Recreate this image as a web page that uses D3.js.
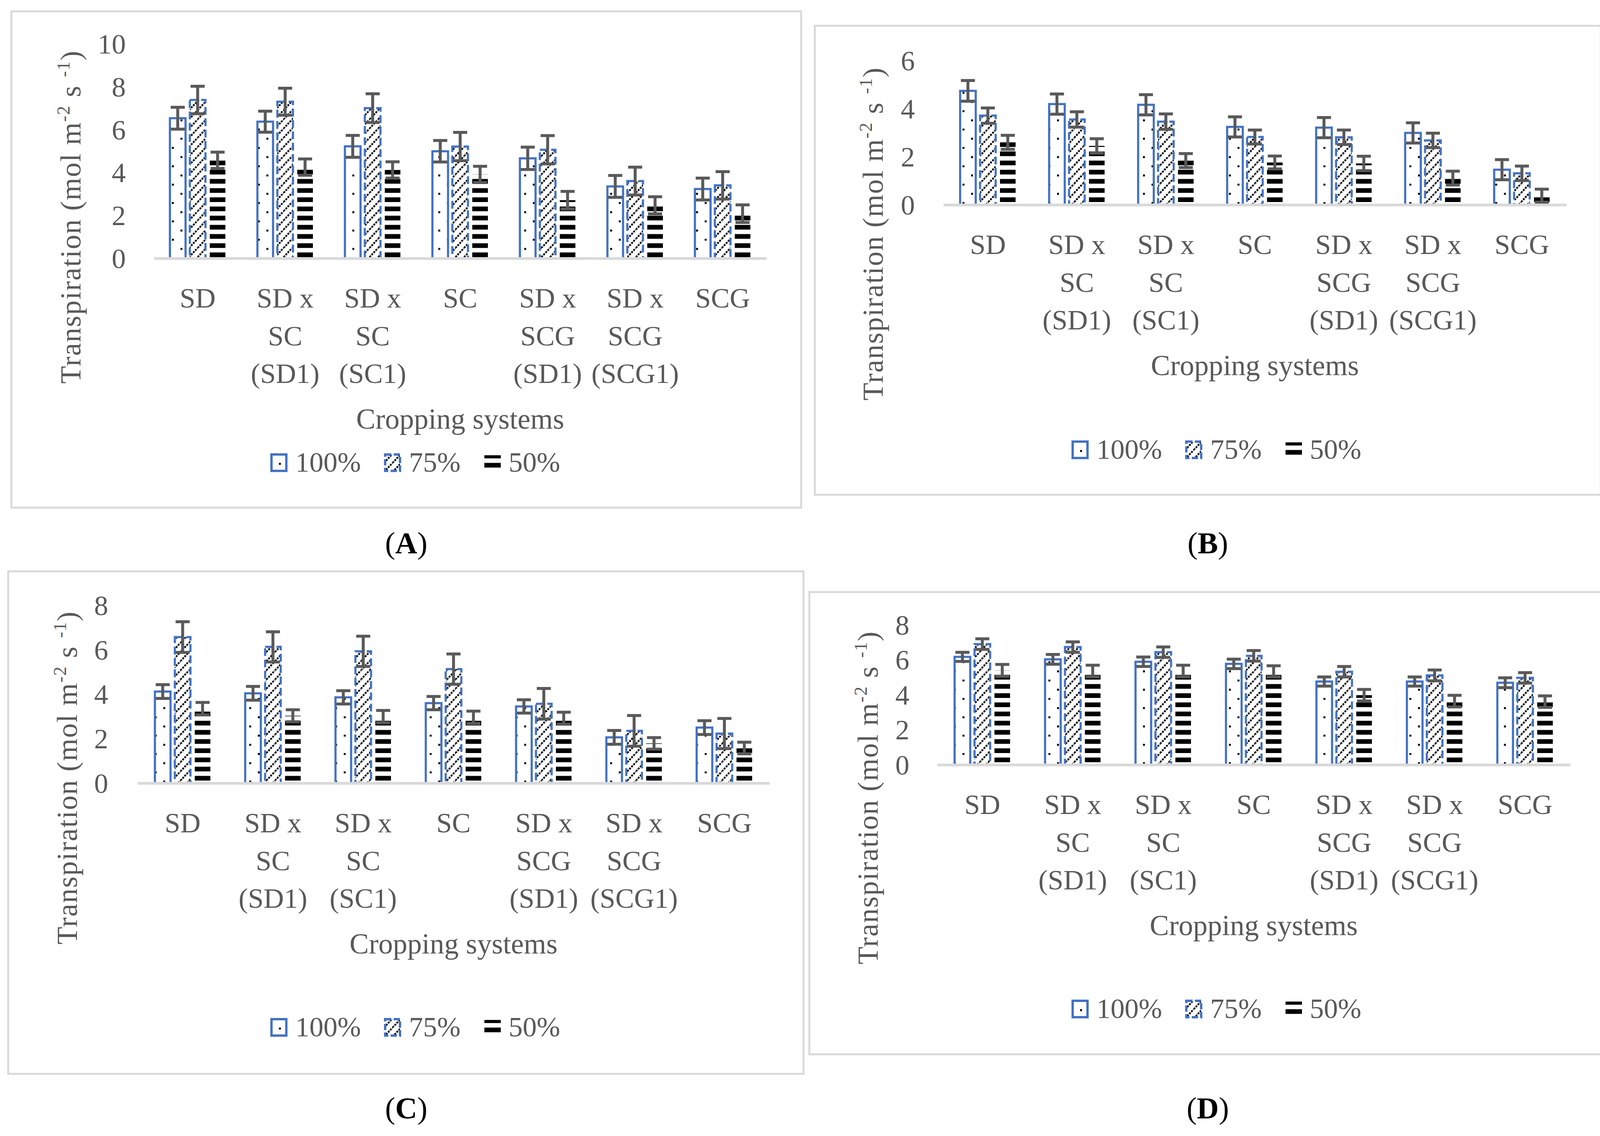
<!DOCTYPE html>
<html>
<head>
<meta charset="utf-8">
<script src="https://cdn.jsdelivr.net/npm/d3@7"></script>
<style>
  html, body { margin: 0; background: #fff; overflow: hidden; }
  svg { display: block; }
  text { font-family: "Liberation Serif", "Times New Roman", serif; }
</style>
</head>
<body>
<svg id="fig" width="4124" height="2907"></svg>
<script>
// categories shared by all four panels
const categories = ['SD', 'SD x SC (SD1)', 'SD x SC (SC1)', 'SC', 'SD x SCG (SD1)', 'SD x SCG (SCG1)', 'SCG'];
const categoryLines = [['SD'], ['SD x', 'SC', '(SD1)'], ['SD x', 'SC', '(SC1)'], ['SC'],
                       ['SD x', 'SCG', '(SD1)'], ['SD x', 'SCG', '(SCG1)'], ['SCG']];
const seriesNames = ['100%', '75%', '50%'];

const ticksA = [0, 2, 4, 6, 8, 10];
const ticksB = [0, 2, 4, 6];
const ticksC = [0, 2, 4, 6, 8];
const ticksD = [0, 2, 4, 6, 8];

// (A)
const a100 = [6.53, 6.37, 5.22, 4.99, 4.66, 3.35, 3.23];
const a75  = [7.38, 7.30, 7.00, 5.21, 5.06, 3.60, 3.40];
const a50  = [4.57, 4.25, 4.12, 3.91, 2.71, 2.47, 2.08];
const aErr100 = [0.51, 0.49, 0.51, 0.50, 0.52, 0.51, 0.51];
const aErr75  = [0.64, 0.63, 0.67, 0.66, 0.66, 0.65, 0.64];
const aErr50  = [0.38, 0.38, 0.38, 0.38, 0.41, 0.40, 0.41];

// (B)
const b100 = [4.74, 4.19, 4.16, 3.24, 3.21, 2.99, 1.46];
const b75  = [3.71, 3.55, 3.46, 2.82, 2.81, 2.68, 1.31];
const b50  = [2.60, 2.45, 1.84, 1.76, 1.72, 1.11, 0.38];
const bErr100 = [0.43, 0.42, 0.42, 0.42, 0.42, 0.42, 0.42];
const bErr75  = [0.32, 0.32, 0.32, 0.29, 0.30, 0.30, 0.30];
const bErr50  = [0.29, 0.30, 0.29, 0.27, 0.30, 0.29, 0.27];

// (C)
const c100 = [4.12, 4.04, 3.86, 3.60, 3.45, 2.06, 2.50];
const c75  = [6.57, 6.13, 5.93, 5.13, 3.57, 2.35, 2.23];
const c50  = [3.35, 3.03, 2.99, 2.96, 2.92, 1.79, 1.58];
const cErr100 = [0.31, 0.31, 0.30, 0.30, 0.30, 0.31, 0.31];
const cErr75  = [0.69, 0.68, 0.68, 0.68, 0.69, 0.69, 0.68];
const cErr50  = [0.28, 0.27, 0.28, 0.28, 0.27, 0.26, 0.26];

// (D)
const d100 = [6.17, 6.03, 5.89, 5.77, 4.76, 4.76, 4.69];
const d75  = [6.90, 6.73, 6.44, 6.23, 5.32, 5.11, 4.97];
const d50  = [5.40, 5.36, 5.36, 5.34, 3.98, 3.64, 3.61];
const dErr100 = [0.26, 0.28, 0.27, 0.27, 0.26, 0.26, 0.28];
const dErr75  = [0.30, 0.30, 0.30, 0.30, 0.30, 0.31, 0.30];
const dErr50  = [0.34, 0.33, 0.33, 0.32, 0.33, 0.33, 0.33];

const BLUE = '#4472C4';
const GREY_TEXT = '#595959';
const GREY_LINE = '#d9d9d9';
const FONT = 72;

const svg = d3.select('#fig');

// ---- fill patterns (Excel style) ----
const defs = svg.append('defs');

const dots = defs.append('pattern').attr('id', 'dots')
    .attr('patternUnits', 'userSpaceOnUse').attr('width', 44).attr('height', 47);
dots.append('rect').attr('width', 44).attr('height', 47).attr('fill', '#fff');
dots.append('rect').attr('x', 0).attr('y', 0).attr('width', 5).attr('height', 5).attr('fill', '#000');
dots.append('rect').attr('x', 22).attr('y', 23.5).attr('width', 5).attr('height', 5).attr('fill', '#000');

const hatch = defs.append('pattern').attr('id', 'hatch')
    .attr('patternUnits', 'userSpaceOnUse').attr('width', 22).attr('height', 23.5);
hatch.append('rect').attr('width', 22).attr('height', 23.5).attr('fill', '#fff');
[-22, 0, 22].forEach(dx => {
  hatch.append('line')
      .attr('x1', dx).attr('y1', 23.5).attr('x2', dx + 22).attr('y2', 0)
      .attr('stroke', '#000').attr('stroke-width', 4.5).attr('stroke-dasharray', '5 2.6');
});

const stripes = defs.append('pattern').attr('id', 'stripes')
    .attr('patternUnits', 'userSpaceOnUse').attr('width', 8).attr('height', 23.5);
stripes.append('rect').attr('width', 8).attr('height', 23.5).attr('fill', '#fff');
stripes.append('rect').attr('y', 11.5).attr('width', 8).attr('height', 12).attr('fill', '#000');

const seriesStyle = {
  '100%': {fill: 'url(#dots)', stroke: BLUE, dash: null},
  '75%':  {fill: 'url(#hatch)', stroke: BLUE, dash: '20 9'},
  '50%':  {fill: 'url(#stripes)', stroke: 'none', dash: null}
};

const panels = [
  {name: 'A', box: [29, 29, 2051, 1299], xRange: [394, 1962], yRange: [661, 112], yMax: 10, ticks: ticksA,
   tickRight: 322, yTitle: [182, 555], legend: [692, 1183], label: [1040, 1416],
   values: [a100, a75, a50], errors: [aErr100, aErr75, aErr50]},
  {name: 'B', box: [2086, 66, 4098, 1266], xRange: [2415, 4010], yRange: [524, 155], yMax: 6, ticks: ticksB,
   tickRight: 2342, yTitle: [2236, 598], legend: [2743, 1150], label: [3092, 1416],
   values: [b100, b75, b50], errors: [bErr100, bErr75, bErr50]},
  {name: 'C', box: [21, 1462, 2057, 2748], xRange: [352, 1970], yRange: [2004, 1549], yMax: 8, ticks: ticksC,
   tickRight: 277, yTitle: [173, 1990], legend: [692, 2628], label: [1040, 2862],
   values: [c100, c75, c50], errors: [cErr100, cErr75, cErr50]},
  {name: 'D', box: [2072, 1515, 4103, 2698], xRange: [2399, 4020], yRange: [1957, 1599], yMax: 8, ticks: ticksD,
   tickRight: 2328, yTitle: [2223, 2041], legend: [2743, 2581], label: [3092, 2862],
   values: [d100, d75, d50], errors: [dErr100, dErr75, dErr50]}
];

function drawPanel(p) {
  const g = svg.append('g').attr('class', 'panel-' + p.name);

  g.append('rect')
      .attr('x', p.box[0]).attr('y', p.box[1])
      .attr('width', p.box[2] - p.box[0]).attr('height', p.box[3] - p.box[1])
      .attr('fill', 'none').attr('stroke', GREY_LINE).attr('stroke-width', 5);

  const x = d3.scaleBand().domain(categories).range(p.xRange);
  const xs = d3.scalePoint().domain(seriesNames).range([-51, 51]);
  const y = d3.scaleLinear().domain([0, p.yMax]).range(p.yRange);
  const y0 = y(0);
  const barW = 40;

  // y axis (labels only)
  const yAxisG = g.append('g')
      .attr('transform', 'translate(' + p.tickRight + ',0)')
      .call(d3.axisLeft(y).tickValues(p.ticks).tickFormat(d3.format('d')).tickSize(0).tickPadding(0));
  yAxisG.select('.domain').remove();
  yAxisG.attr('font-family', null).attr('font-size', FONT).style('color', GREY_TEXT);
  yAxisG.selectAll('text').attr('dy', '0.34em');

  // bars
  seriesNames.forEach((s, k) => {
    const st = seriesStyle[s];
    g.append('g').selectAll('rect')
        .data(p.values[k])
        .join('rect')
        .attr('x', (d, i) => x(categories[i]) + x.bandwidth() / 2 + xs(s) - barW / 2)
        .attr('y', d => y(d))
        .attr('width', barW)
        .attr('height', d => y0 - y(d))
        .attr('fill', st.fill)
        .attr('stroke', st.stroke)
        .attr('stroke-width', 5.5)
        .attr('stroke-dasharray', st.dash);
  });

  // x axis: grey baseline plus multi-line category labels
  const xAxisG = g.append('g')
      .attr('transform', 'translate(0,' + y0 + ')')
      .call(d3.axisBottom(x).tickSize(0).tickSizeOuter(0).tickPadding(0));
  xAxisG.select('.domain').attr('stroke', GREY_LINE).attr('stroke-width', 7);
  xAxisG.attr('font-family', null).attr('font-size', FONT).style('color', GREY_TEXT);
  xAxisG.selectAll('.tick text')
      .attr('y', 0).attr('dy', null)
      .text(null)
      .each(function (d) {
        const lines = categoryLines[categories.indexOf(d)];
        const t = d3.select(this);
        lines.forEach((ln, j) => {
          t.append('tspan').attr('x', 0).attr('y', 126 + j * 96.5).text(ln);
        });
      });

  // error bars
  seriesNames.forEach((s, k) => {
    const eg = g.append('g').attr('stroke', GREY_TEXT).attr('stroke-width', 7.5).attr('fill', 'none');
    p.values[k].forEach((v, i) => {
      const cx = x(categories[i]) + x.bandwidth() / 2 + xs(s);
      const e = p.errors[k][i];
      const top = y(v + e), bot = y(v - e);
      eg.append('line').attr('x1', cx).attr('x2', cx).attr('y1', top).attr('y2', bot);
      eg.append('line').attr('x1', cx - 18).attr('x2', cx + 18).attr('y1', top).attr('y2', top);
      eg.append('line').attr('x1', cx - 18).attr('x2', cx + 18).attr('y1', bot).attr('y2', bot);
    });
  });

  // axis titles
  g.append('text')
      .attr('x', (p.xRange[0] + p.xRange[1]) / 2)
      .attr('y', y0 + 436)
      .attr('text-anchor', 'middle')
      .attr('font-size', 74)
      .attr('fill', GREY_TEXT)
      .text('Cropping systems');

  const yt = g.append('text')
      .attr('transform', 'translate(' + p.yTitle[0] + ',' + p.yTitle[1] + ') rotate(-90)')
      .attr('text-anchor', 'middle')
      .attr('dy', '0.33em')
      .attr('font-size', 74)
      .attr('letter-spacing', 2)
      .attr('fill', GREY_TEXT);
  yt.append('tspan').text('Transpiration (mol m');
  yt.append('tspan').attr('font-size', 46).attr('dy', -28).text('-2');
  yt.append('tspan').attr('dy', 28).text(' s ');
  yt.append('tspan').attr('font-size', 46).attr('dy', -28).text('-1');
  yt.append('tspan').attr('dy', 28).text(')');

  // legend
  let lx = p.legend[0];
  const ly = p.legend[1];
  seriesNames.forEach(s => {
    const st = seriesStyle[s];
    const item = g.append('g').attr('transform', 'translate(' + lx + ',' + (ly - 22) + ')');
    if (s === '50%') {
      item.append('rect').attr('x', 2).attr('y', 4).attr('width', 42).attr('height', 36)
          .attr('fill', 'url(#stripes)')
          .attr('transform', 'translate(0,-11.5)')
          .attr('y', 15.5);
    } else {
      item.append('rect').attr('x', 3).attr('y', 2).attr('width', 38).attr('height', 42)
          .attr('fill', st.fill).attr('stroke', st.stroke).attr('stroke-width', 6)
          .attr('stroke-dasharray', st.dash ? '16 6' : null);
    }
    const t = item.append('text')
        .attr('x', 64).attr('y', 22).attr('dy', '0.34em')
        .attr('font-size', FONT).attr('fill', GREY_TEXT)
        .text(s);
    lx += 64 + t.node().getComputedTextLength() + 59;
  });

  // panel label, below the box
  const lab = svg.append('text')
      .attr('x', p.label[0]).attr('y', p.label[1])
      .attr('text-anchor', 'middle')
      .attr('font-size', 78)
      .attr('fill', '#000');
  lab.append('tspan').text('(');
  lab.append('tspan').attr('font-weight', 'bold').text(p.name);
  lab.append('tspan').text(')');
}

panels.forEach(drawPanel);
</script>
</body>
</html>
